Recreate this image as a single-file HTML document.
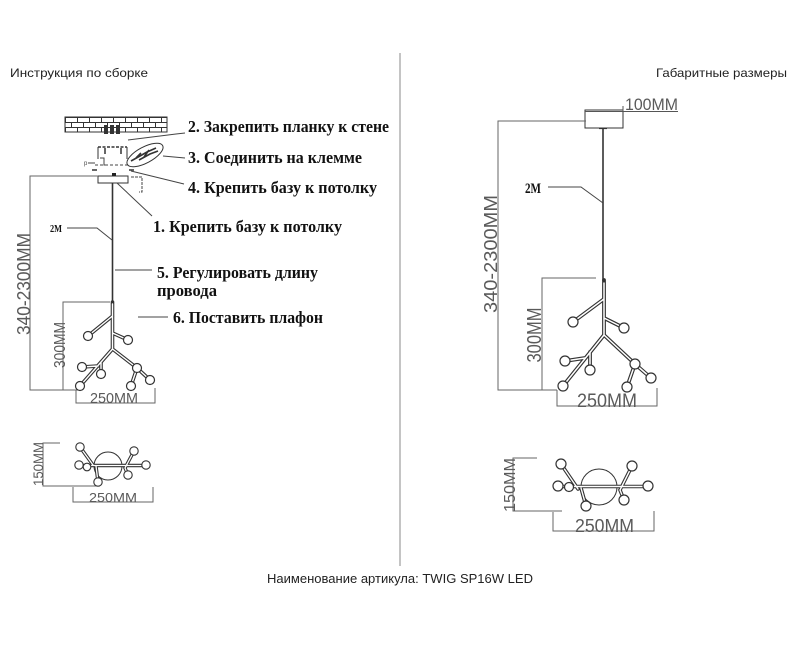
<!DOCTYPE html>
<html><head><meta charset="utf-8"><style>
html,body{margin:0;padding:0;background:#fff;}
svg{display:block;}
.s{font-family:"Liberation Sans",sans-serif;}
.b{font-family:"Liberation Serif",serif;font-weight:bold;fill:#111;}
.d{font-family:"Liberation Sans",sans-serif;fill:#5a5a5a;}
</style></head><body>
<svg width="800" height="655" viewBox="0 0 800 655" xmlns="http://www.w3.org/2000/svg">
<defs>
<pattern id="brick" patternUnits="userSpaceOnUse" x="65" y="117" width="12" height="10">
<rect width="12" height="10" fill="#fff"/>
<line x1="0" y1="0.5" x2="12" y2="0.5" stroke="#333" stroke-width="1"/>
<line x1="0" y1="5.5" x2="12" y2="5.5" stroke="#333" stroke-width="1"/>
<line x1="0.5" y1="0" x2="0.5" y2="5" stroke="#333" stroke-width="1"/>
<line x1="6.5" y1="5" x2="6.5" y2="10" stroke="#333" stroke-width="1"/>
</pattern>
</defs>

<!-- headers -->
<text class="s" x="10" y="77" font-size="12" fill="#222" textLength="138" lengthAdjust="spacingAndGlyphs">Инструкция по сборке</text>
<text class="s" x="656" y="77" font-size="12" fill="#222" textLength="131" lengthAdjust="spacingAndGlyphs">Габаритные размеры</text>
<text class="s" x="267" y="583" font-size="13" fill="#222" textLength="266" lengthAdjust="spacingAndGlyphs">Наименование артикула: TWIG SP16W LED</text>

<!-- divider -->
<line x1="400" y1="53" x2="400" y2="566" stroke="#8a8a8a" stroke-width="1"/>

<!-- ================= LEFT ================= -->
<!-- wall -->
<rect x="65" y="117" width="102" height="15" fill="url(#brick)" stroke="#333" stroke-width="1"/>
<rect x="104" y="125" width="4" height="9" fill="#333"/>
<rect x="110" y="125" width="4" height="9" fill="#333"/>
<rect x="116" y="125" width="4" height="9" fill="#333"/>
<!-- leader 2 -->
<polyline points="128,140 176,134 185,133" fill="none" stroke="#444" stroke-width="1"/>
<text class="b" x="188" y="132" font-size="17" textLength="201" lengthAdjust="spacingAndGlyphs">2. Закрепить планку к стене</text>

<!-- bracket -->
<line x1="98" y1="147" x2="127" y2="147" stroke="#333" stroke-width="1.5" stroke-dasharray="3,1.5"/>
<line x1="98" y1="147" x2="98" y2="159" stroke="#333" stroke-width="1"/>
<line x1="127" y1="147" x2="127" y2="159" stroke="#333" stroke-width="1"/>
<line x1="105" y1="148" x2="105" y2="154" stroke="#333" stroke-width="1.5"/>
<line x1="121" y1="148" x2="121" y2="154" stroke="#333" stroke-width="1.5"/>
<!-- small parts -->
<text class="s" x="84" y="165" font-size="6" fill="#444">p</text>
<line x1="88" y1="163" x2="95" y2="163" stroke="#444" stroke-width="1"/>
<polyline points="100,158 104,158 104,165 108,165" fill="none" stroke="#444" stroke-width="1"/>
<line x1="95" y1="165" x2="132" y2="165" stroke="#444" stroke-width="1" stroke-dasharray="3,2"/>
<line x1="92" y1="170" x2="97" y2="170" stroke="#333" stroke-width="1.5"/>
<line x1="129" y1="170" x2="134" y2="170" stroke="#333" stroke-width="1.5"/>
<!-- ellipse with wires -->
<ellipse cx="145" cy="155" rx="20" ry="8" transform="rotate(-28 145 155)" fill="#fff" stroke="#333" stroke-width="1"/>
<path d="M131 161 L140 156 L147 152 L156 148 M136 158 L141 153 M144 157 L149 150 M139 160 L150 154 L158 151" stroke="#333" stroke-width="1.6" fill="none"/>
<line x1="163" y1="156" x2="185" y2="158" stroke="#444" stroke-width="1"/>
<text class="b" x="188" y="163" font-size="17" textLength="174" lengthAdjust="spacingAndGlyphs">3. Соединить на клемме</text>

<!-- base -->
<rect x="98" y="176" width="30" height="7" fill="#fff" stroke="#333" stroke-width="1"/>
<rect x="112" y="173" width="4" height="3" fill="#222"/>
<polyline points="131,177 142,177 142,192 139,192" fill="none" stroke="#444" stroke-width="1" stroke-dasharray="3,1"/>
<line x1="131" y1="171" x2="184" y2="184" stroke="#444" stroke-width="1"/>
<text class="b" x="188" y="193" font-size="17" textLength="189" lengthAdjust="spacingAndGlyphs">4. Крепить базу к потолку</text>
<line x1="117" y1="183" x2="152" y2="216" stroke="#444" stroke-width="1"/>
<text class="b" x="153" y="232" font-size="17" textLength="189" lengthAdjust="spacingAndGlyphs">1. Крепить базу к потолку</text>

<!-- dimension 340-2300 left -->
<polyline points="98,176 30,176 30,390 78,390" fill="none" stroke="#666" stroke-width="1"/>
<text class="d" transform="translate(30,284) rotate(-90)" text-anchor="middle" font-size="18" textLength="102" lengthAdjust="spacingAndGlyphs">340-2300MM</text>

<!-- cord -->
<line x1="112.5" y1="183" x2="112.5" y2="302" stroke="#333" stroke-width="1.6"/>
<text class="b" x="50" y="232" font-size="11" textLength="12" lengthAdjust="spacingAndGlyphs">2M</text>
<polyline points="67,228 97,228 112,240" fill="none" stroke="#444" stroke-width="1"/>
<line x1="115" y1="270" x2="152" y2="270" stroke="#444" stroke-width="1"/>
<text class="b" x="157" y="278" font-size="17" textLength="161" lengthAdjust="spacingAndGlyphs">5. Регулировать длину</text>
<text class="b" x="157" y="296" font-size="17" textLength="60" lengthAdjust="spacingAndGlyphs">провода</text>
<line x1="138" y1="317" x2="168" y2="317" stroke="#444" stroke-width="1"/>
<text class="b" x="173" y="323" font-size="17" textLength="150" lengthAdjust="spacingAndGlyphs">6. Поставить плафон</text>

<!-- 300MM left -->
<polyline points="110,302 63,302 63,390" fill="none" stroke="#666" stroke-width="1"/>
<text class="d" transform="translate(65,345) rotate(-90)" text-anchor="middle" font-size="16" textLength="46" lengthAdjust="spacingAndGlyphs">300MM</text>
<!-- 250MM left -->
<polyline points="76,390 76,403 155,403 155,388" fill="none" stroke="#666" stroke-width="1"/>
<text class="d" x="90" y="403" font-size="15" textLength="48" lengthAdjust="spacingAndGlyphs">250MM</text>

<!-- left tree -->
<g fill="none" stroke="#333" stroke-width="3.6" stroke-linecap="round">
<path d="M112.5 302 L112.5 349 M112.5 316 L88 336 M112.5 333 L128 340 M112.5 349 L80 386 M112.5 349 L137 368 L150 380 M137 368 L131 386 M98 366 L82 367 M101 362 L101 374"/>
</g>
<g fill="none" stroke="#fff" stroke-width="1.4" stroke-linecap="round">
<path d="M112.5 304 L112.5 349 M112.5 316 L88 336 M112.5 333 L128 340 M112.5 349 L80 386 M112.5 349 L137 368 L150 380 M137 368 L131 386 M98 366 L82 367 M101 362 L101 374"/>
</g>
<g fill="#fff" stroke="#333" stroke-width="1.2">
<circle cx="88" cy="336" r="4.5"/><circle cx="128" cy="340" r="4.5"/><circle cx="80" cy="386" r="4.5"/>
<circle cx="137" cy="368" r="4.5"/><circle cx="150" cy="380" r="4.5"/><circle cx="131" cy="386" r="4.5"/>
<circle cx="82" cy="367" r="4.5"/><circle cx="101" cy="374" r="4.5"/>
</g>

<!-- left top view -->
<polyline points="60,443 43,443 43,486 100,486" fill="none" stroke="#666" stroke-width="1"/>
<text class="d" transform="translate(43,464) rotate(-90)" text-anchor="middle" font-size="14" textLength="44" lengthAdjust="spacingAndGlyphs">150MM</text>
<polyline points="73,487 73,502 153,502 153,487" fill="none" stroke="#666" stroke-width="1"/>
<text class="d" x="89" y="502" font-size="13" textLength="48" lengthAdjust="spacingAndGlyphs">250MM</text>
<circle cx="108" cy="466" r="14" fill="#fff" stroke="#333" stroke-width="1"/>
<g fill="none" stroke="#333" stroke-width="3.4" stroke-linecap="round">
<path d="M79 465.5 L146 465.5 M80 447 L93 465 M134 451 L125 468 L128 475 M98 482 L96 466"/>
</g>
<g fill="none" stroke="#fff" stroke-width="1.3" stroke-linecap="round">
<path d="M79 465.5 L146 465.5 M80 447 L93 465 M134 451 L125 468 L128 475 M98 482 L96 466"/>
</g>
<g fill="#fff" stroke="#333" stroke-width="1.1">
<circle cx="79" cy="465" r="4.2"/><circle cx="146" cy="465" r="4.2"/><circle cx="80" cy="447" r="4.2"/>
<circle cx="134" cy="451" r="4.2"/><circle cx="98" cy="482" r="4.2"/><circle cx="128" cy="475" r="4.2"/>
<circle cx="87" cy="467" r="3.8"/>
</g>

<!-- ================= RIGHT ================= -->
<rect x="585" y="110" width="38" height="18" fill="#fff" stroke="#333" stroke-width="1"/>
<line x1="585" y1="111.5" x2="678" y2="111.5" stroke="#555" stroke-width="1"/>
<line x1="623" y1="106" x2="623" y2="112" stroke="#555" stroke-width="1"/>
<text class="d" x="625" y="110" font-size="17" textLength="53" lengthAdjust="spacingAndGlyphs">100MM</text>
<line x1="599" y1="128.5" x2="607" y2="128.5" stroke="#333" stroke-width="1.2"/>
<line x1="603" y1="128" x2="603" y2="281" stroke="#333" stroke-width="1.6"/>

<polyline points="586,121 498,121 498,390 557,390" fill="none" stroke="#666" stroke-width="1"/>
<text class="d" transform="translate(497,254) rotate(-90)" text-anchor="middle" font-size="18" textLength="118" lengthAdjust="spacingAndGlyphs">340-2300MM</text>

<text class="b" x="525" y="193" font-size="15" textLength="16" lengthAdjust="spacingAndGlyphs">2M</text>
<polyline points="548,187 581,187 603,203" fill="none" stroke="#444" stroke-width="1"/>

<polyline points="596,278 542,278 542,390" fill="none" stroke="#666" stroke-width="1"/>
<text class="d" transform="translate(541,335) rotate(-90)" text-anchor="middle" font-size="20" textLength="55" lengthAdjust="spacingAndGlyphs">300MM</text>
<polyline points="557,390 557,406 657,406 657,388" fill="none" stroke="#666" stroke-width="1"/>
<text class="d" x="577" y="407" font-size="19" textLength="60" lengthAdjust="spacingAndGlyphs">250MM</text>

<!-- right tree -->
<g fill="none" stroke="#333" stroke-width="3.8" stroke-linecap="round">
<path d="M604 280 L604 335 M604 299 L573 322 M604 318 L624 328 M604 335 L563 386 M604 335 L635 364 L651 378 M635 364 L627 387 M585 358 L565 361 M590 352 L590 370"/>
</g>
<g fill="none" stroke="#fff" stroke-width="1.5" stroke-linecap="round">
<path d="M604 283 L604 335 M604 299 L573 322 M604 318 L624 328 M604 335 L563 386 M604 335 L635 364 L651 378 M635 364 L627 387 M585 358 L565 361 M590 352 L590 370"/>
</g>
<g fill="#fff" stroke="#333" stroke-width="1.2">
<circle cx="573" cy="322" r="5"/><circle cx="624" cy="328" r="5"/><circle cx="563" cy="386" r="5"/>
<circle cx="635" cy="364" r="5"/><circle cx="651" cy="378" r="5"/><circle cx="627" cy="387" r="5"/>
<circle cx="565" cy="361" r="5"/><circle cx="590" cy="370" r="5"/>
</g>

<!-- right top view -->
<polyline points="537,458 513,458 513,511 562,511" fill="none" stroke="#666" stroke-width="1"/>
<text class="d" transform="translate(515,485) rotate(-90)" text-anchor="middle" font-size="16" textLength="54" lengthAdjust="spacingAndGlyphs">150MM</text>
<polyline points="553,512 553,531 654,531 654,511" fill="none" stroke="#666" stroke-width="1"/>
<text class="d" x="575" y="532" font-size="18" textLength="59" lengthAdjust="spacingAndGlyphs">250MM</text>
<circle cx="599" cy="487" r="18" fill="#fff" stroke="#333" stroke-width="1"/>
<g fill="none" stroke="#333" stroke-width="3.6" stroke-linecap="round">
<path d="M558 486.5 L648 486.5 M561 464 L578 489 M632 466 L620 490 L624 500 M586 506 L581 488"/>
</g>
<g fill="none" stroke="#fff" stroke-width="1.4" stroke-linecap="round">
<path d="M558 486.5 L648 486.5 M561 464 L578 489 M632 466 L620 490 L624 500 M586 506 L581 488"/>
</g>
<g fill="#fff" stroke="#333" stroke-width="1.2">
<circle cx="558" cy="486" r="5"/><circle cx="648" cy="486" r="5"/><circle cx="561" cy="464" r="5"/>
<circle cx="632" cy="466" r="5"/><circle cx="586" cy="506" r="5"/><circle cx="624" cy="500" r="5"/>
<circle cx="569" cy="487" r="4.5"/>
</g>
</svg>
</body></html>
